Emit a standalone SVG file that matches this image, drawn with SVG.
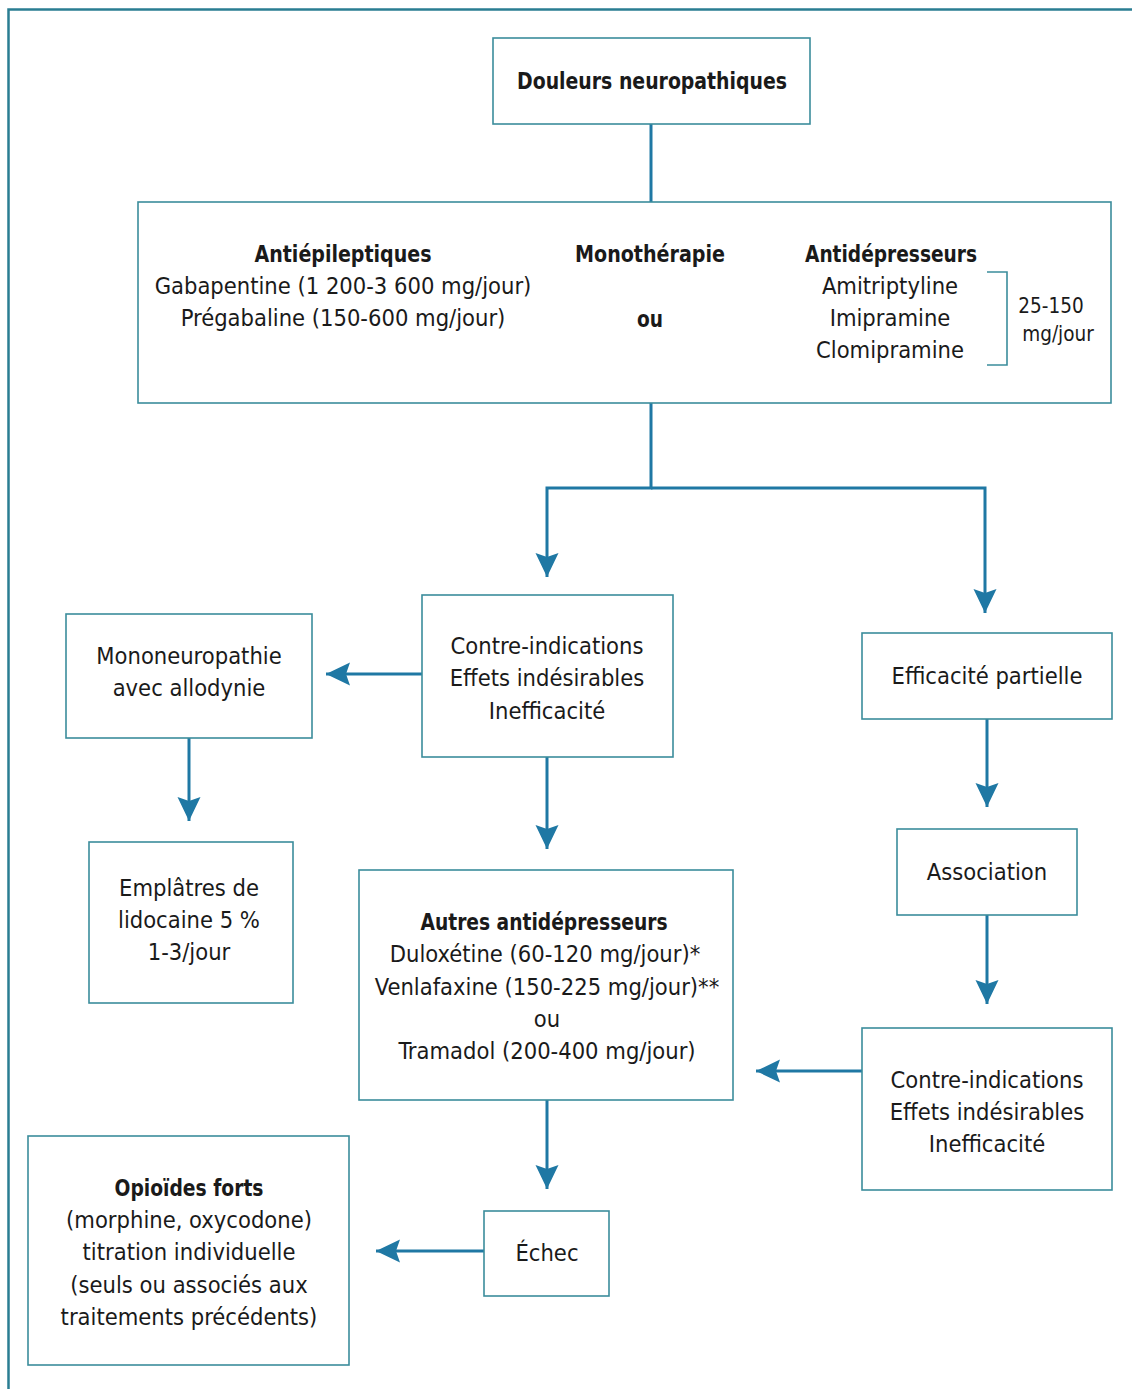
<svg xmlns="http://www.w3.org/2000/svg" width="1132" height="1389" viewBox="0 0 1132 1389">
<defs>
<style>
.bx{fill:#ffffff;stroke:#3b8d9c;stroke-width:1.6}
.t{font-family:"DejaVu Sans Condensed","Liberation Sans",sans-serif;font-size:23.5px;fill:#1a1a1a;text-anchor:middle}
.b{font-weight:bold}
.s{font-size:20.5px}
.c{fill:none;stroke:#1f78a4;stroke-width:3}
.br{fill:none;stroke:#3b8d9c;stroke-width:1.6}
</style>
<marker id="ah" markerUnits="userSpaceOnUse" markerWidth="26" markerHeight="26" viewBox="0 0 26 26" refX="24" refY="13" orient="auto">
<path d="M0,1.5 L24,13 L0,24.5 L4,13 Z" fill="#1f78a4"/>
</marker>
</defs>
<rect x="0" y="0" width="1132" height="1389" fill="#ffffff"/>
<path d="M8.5,1389 V9.5 H1132" fill="none" stroke="#2a7d92" stroke-width="2.5"/>

<g id="connectors">
<path class="c" d="M651,124 V202"/>
<path class="c" d="M651,403 V488 H547 V577" marker-end="url(#ah)"/>
<path class="c" d="M651,488 H985 V613" marker-end="url(#ah)"/>
<path class="c" d="M422,674 H326" marker-end="url(#ah)"/>
<path class="c" d="M189,738 V821" marker-end="url(#ah)"/>
<path class="c" d="M547,757 V849" marker-end="url(#ah)"/>
<path class="c" d="M987,719 V807" marker-end="url(#ah)"/>
<path class="c" d="M987,915 V1004" marker-end="url(#ah)"/>
<path class="c" d="M862,1071 H756" marker-end="url(#ah)"/>
<path class="c" d="M547,1100 V1189" marker-end="url(#ah)"/>
<path class="c" d="M484,1251 H376" marker-end="url(#ah)"/>
</g>

<g id="n-douleurs">
<rect class="bx" x="493" y="38" width="317" height="86"/>
<text class="t b" x="652" y="89" textLength="270" lengthAdjust="spacingAndGlyphs">Douleurs neuropathiques</text>
</g>

<g id="n-monotherapie">
<rect class="bx" x="138" y="202" width="973" height="201"/>
<text class="t b" x="343" y="262" textLength="177" lengthAdjust="spacingAndGlyphs">Antiépileptiques</text>
<text class="t" x="343" y="294">Gabapentine (1 200-3 600 mg/jour)</text>
<text class="t" x="343" y="326">Prégabaline (150-600 mg/jour)</text>
<text class="t b" x="650" y="262" textLength="150" lengthAdjust="spacingAndGlyphs">Monothérapie</text>
<text class="t b" x="650" y="327" textLength="26" lengthAdjust="spacingAndGlyphs">ou</text>
<text class="t b" x="891" y="262" textLength="172" lengthAdjust="spacingAndGlyphs">Antidépresseurs</text>
<text class="t" x="890" y="294">Amitriptyline</text>
<text class="t" x="890" y="326">Imipramine</text>
<text class="t" x="890" y="358">Clomipramine</text>
<path class="br" d="M987,272 H1007 V365 H987"/>
<text class="t s" x="1051" y="313">25-150</text>
<text class="t s" x="1058" y="341">mg/jour</text>
</g>

<g id="n-contre1">
<rect class="bx" x="422" y="595" width="251" height="162"/>
<text class="t" x="547" y="654">Contre-indications</text>
<text class="t" x="547" y="686">Effets indésirables</text>
<text class="t" x="547" y="719">Inefficacité</text>
</g>

<g id="n-mono">
<rect class="bx" x="66" y="614" width="246" height="124"/>
<text class="t" x="189" y="664">Mononeuropathie</text>
<text class="t" x="189" y="696">avec allodynie</text>
</g>

<g id="n-efficacite">
<rect class="bx" x="862" y="633" width="250" height="86"/>
<text class="t" x="987" y="684">Efficacité partielle</text>
</g>

<g id="n-association">
<rect class="bx" x="897" y="829" width="180" height="86"/>
<text class="t" x="987" y="880">Association</text>
</g>

<g id="n-emplatres">
<rect class="bx" x="89" y="842" width="204" height="161"/>
<text class="t" x="189" y="896">Emplâtres de</text>
<text class="t" x="189" y="928">lidocaine 5 %</text>
<text class="t" x="189" y="960">1-3/jour</text>
</g>

<g id="n-autres">
<rect class="bx" x="359" y="870" width="374" height="230"/>
<text class="t b" x="544" y="930" textLength="247" lengthAdjust="spacingAndGlyphs">Autres antidépresseurs</text>
<text class="t" x="545" y="962">Duloxétine (60-120 mg/jour)*</text>
<text class="t" x="547" y="995">Venlafaxine (150-225 mg/jour)**</text>
<text class="t" x="547" y="1027">ou</text>
<text class="t" x="547" y="1059">Tramadol (200-400 mg/jour)</text>
</g>

<g id="n-contre2">
<rect class="bx" x="862" y="1028" width="250" height="162"/>
<text class="t" x="987" y="1088">Contre-indications</text>
<text class="t" x="987" y="1120">Effets indésirables</text>
<text class="t" x="987" y="1152">Inefficacité</text>
</g>

<g id="n-echec">
<rect class="bx" x="484" y="1211" width="125" height="85"/>
<text class="t" x="547" y="1261">Échec</text>
</g>

<g id="n-opioides">
<rect class="bx" x="28" y="1136" width="321" height="229"/>
<text class="t b" x="189" y="1196" textLength="149" lengthAdjust="spacingAndGlyphs">Opioïdes forts</text>
<text class="t" x="189" y="1228">(morphine, oxycodone)</text>
<text class="t" x="189" y="1260">titration individuelle</text>
<text class="t" x="189" y="1293">(seuls ou associés aux</text>
<text class="t" x="189" y="1325">traitements précédents)</text>
</g>
</svg>
